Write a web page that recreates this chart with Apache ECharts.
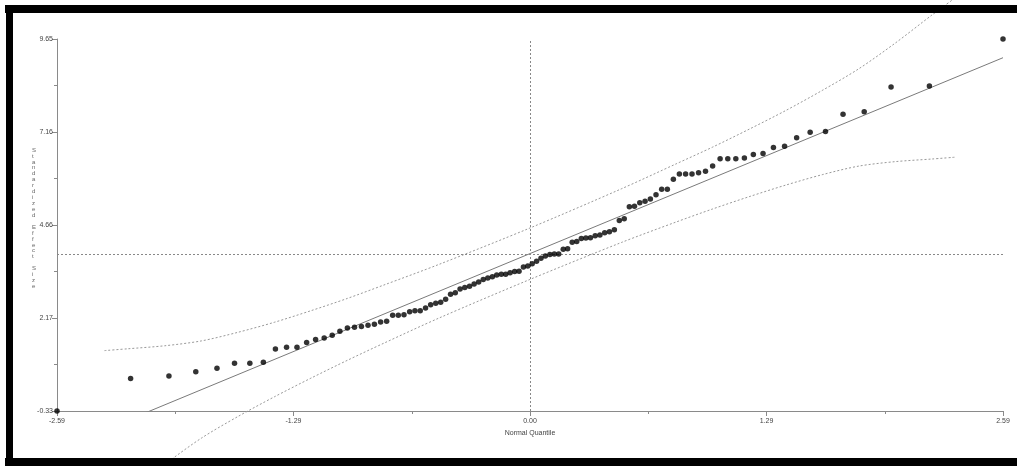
<!DOCTYPE html>
<html>
<head>
<meta charset="utf-8">
<script src="https://cdn.jsdelivr.net/npm/echarts@6/dist/echarts.min.js"></script>
<style>
html,body{margin:0;padding:0;background:#fff;}
#c{width:1017px;height:466px;}
</style>
</head>
<body>
<div id="c"></div>
<script>
// Normal quantiles (x) and sorted standardized effect sizes (y)
var quantiles = [-2.59,-2.187,-1.977,-1.830,-1.714,-1.618,-1.534,-1.460,-1.394,-1.333,-1.276,-1.223,-1.174,-1.127,-1.083,-1.041,-1.000,-0.961,-0.923,-0.887,-0.852,-0.818,-0.785,-0.752,-0.721,-0.690,-0.659,-0.630,-0.601,-0.572,-0.544,-0.516,-0.489,-0.462,-0.435,-0.409,-0.383,-0.357,-0.331,-0.306,-0.281,-0.256,-0.231,-0.206,-0.182,-0.157,-0.133,-0.109,-0.084,-0.060,-0.036,-0.012,
0.012,0.036,0.060,0.084,0.109,0.133,0.157,0.182,0.206,0.231,0.256,0.281,0.306,0.331,0.357,0.383,0.409,0.435,0.462,0.489,0.516,0.544,0.572,0.601,0.630,0.659,0.690,0.721,0.752,0.785,0.818,0.852,0.887,0.923,0.961,1.000,1.041,1.083,1.127,1.174,1.223,1.276,1.333,1.394,1.460,1.534,1.618,1.714,1.830,1.977,2.187,2.59];
var effects = [-0.33,0.54,0.61,0.72,0.82,0.95,0.95,0.98,1.33,1.38,
1.38,1.51,1.59,1.63,1.70,1.81,1.90,1.92,1.94,1.97,
2.00,2.06,2.08,2.24,2.24,2.25,2.33,2.36,2.36,2.43,
2.52,2.56,2.59,2.67,2.80,2.84,2.94,2.98,3.02,3.08,
3.13,3.20,3.24,3.27,3.32,3.34,3.34,3.38,3.41,3.42,
3.53,3.56,3.62,3.69,3.77,3.83,3.87,3.88,3.88,4.01,
4.02,4.20,4.22,4.30,4.31,4.32,4.37,4.39,4.45,4.48,
4.53,4.78,4.83,5.15,5.16,5.26,5.30,5.36,5.47,5.62,
5.62,5.89,6.03,6.03,6.03,6.06,6.10,6.24,6.44,6.44,
6.44,6.46,6.55,6.58,6.74,6.77,7.00,7.15,7.17,7.63,
7.70,8.36,8.39,9.65];

// Fitted line end points
var fitX = [-2.59, 2.59];
var fitY = [-1.362, 9.148];

// Confidence band
var bandX = [-2.33,-2.2,-2.0,-1.8,-1.6,-1.4,-1.2,-1.0,-0.8,-0.5,0,0.5,0.8,1.0,1.2,1.4,1.6,1.8,2.0,2.2,2.33];
var bandUpper = [1.29,1.34,1.42,1.55,1.78,2.05,2.36,2.69,3.05,3.60,4.58,5.63,6.30,6.75,7.23,7.73,8.27,8.85,9.54,10.29,10.76];
var bandLower = [-2.98,-2.50,-1.76,-1.06,-0.48,0.05,0.55,1.03,1.49,2.16,3.20,4.19,4.74,5.09,5.42,5.73,6.01,6.24,6.36,6.43,6.48];

// Reference lines
var refX = 0;
var refY = 3.88;

// Axis ticks
var xTickLabels = ['-2.59','-1.29','0.00','1.29','2.59'];
var yTickValues = [-0.33, 2.165, 4.66, 7.155, 9.65];
var yTickLabels = ['-0.33','2.17','4.66','7.16','9.65'];
var yMinorValues = [0.9175, 3.4125, 5.9075, 8.4025];

var yTitle = 'Standardized Effect Size';

function zip(a, b) { return a.map(function (v, i) { return [v, b[i]]; }); }

var chart = echarts.init(document.getElementById('c'), null, {renderer: 'canvas'});
var axisColor = '#8a8a8a';
var fontFam = 'Liberation Sans, Arial, sans-serif';
var labelFont = {fontSize: 7, color: '#444', fontFamily: fontFam};

chart.setOption({
  backgroundColor: '#fff',
  animation: false,
  grid: {left: 57, right: 14, top: 39, bottom: 55, containLabel: false},
  xAxis: {
    type: 'value', min: -2.59, max: 2.59, interval: 1.295,
    axisLine: {show: true, onZero: false, lineStyle: {color: axisColor, width: 1}},
    axisTick: {show: true, length: 5, lineStyle: {color: axisColor}},
    minorTick: {show: true, splitNumber: 2, length: 3, lineStyle: {color: axisColor}},
    splitLine: {show: false},
    axisLabel: Object.assign({margin: 7, formatter: function (v) {
      return xTickLabels[Math.round((v + 2.59) / 1.295)];
    }}, labelFont),
    name: 'Normal Quantile', nameLocation: 'middle', nameGap: 15,
    nameTextStyle: {fontSize: 7, color: '#444', fontFamily: fontFam}
  },
  yAxis: [{
    type: 'value', min: -0.33, max: 9.65, position: 'left',
    axisLine: {show: true, onZero: false, lineStyle: {color: axisColor, width: 1}},
    axisTick: {show: true, length: 5, customValues: yTickValues, lineStyle: {color: axisColor}},
    splitLine: {show: false},
    axisLabel: Object.assign({margin: 4, customValues: yTickValues, formatter: function (v) {
      var best = 0;
      for (var i = 0; i < yTickValues.length; i++) {
        if (Math.abs(yTickValues[i] - v) < Math.abs(yTickValues[best] - v)) best = i;
      }
      return yTickLabels[best];
    }}, labelFont)
  }, {
    // minor ticks on the same left edge
    type: 'value', min: -0.33, max: 9.65, position: 'left',
    axisLine: {show: false, onZero: false},
    axisTick: {show: true, length: 3, customValues: yMinorValues, lineStyle: {color: axisColor}},
    axisLabel: {show: true, customValues: yMinorValues, formatter: function () { return ''; }},
    splitLine: {show: false}
  }],
  graphic: [
    {type: 'text', left: 32, top: 147, z: 10,
      style: {text: yTitle.split('').join('\n'),
        fontSize: 6, lineHeight: 5.93, fill: '#666', align: 'center',
        fontFamily: fontFam}},
    {type: 'rect', z: 100, shape: {x: 5, y: 5, width: 1012, height: 8}, style: {fill: '#000'}},
    {type: 'rect', z: 100, shape: {x: 6, y: 5, width: 7, height: 461}, style: {fill: '#000'}},
    {type: 'rect', z: 100, shape: {x: 5, y: 458, width: 1012, height: 8}, style: {fill: '#000'}}
  ],
  series: [
    {
      type: 'line', data: zip(bandX, bandUpper), showSymbol: false, symbol: 'none', smooth: 0.3,
      clip: false, silent: true,
      lineStyle: {color: '#999', width: 1, type: [2, 2]}, z: 2
    },
    {
      type: 'line', data: zip(bandX, bandLower), showSymbol: false, symbol: 'none', smooth: 0.3,
      clip: false, silent: true,
      lineStyle: {color: '#999', width: 1, type: [2, 2]}, z: 2
    },
    {
      type: 'line', data: zip(fitX, fitY), showSymbol: false, symbol: 'none', clip: true, silent: true,
      lineStyle: {color: '#7a7a7a', width: 1}, z: 3
    },
    {
      type: 'scatter', data: zip(quantiles, effects), symbol: 'circle', symbolSize: 5.5,
      itemStyle: {color: '#000'}, clip: false, z: 5,
      markLine: {
        silent: true, symbol: 'none', animation: false, label: {show: false},
        lineStyle: {color: '#888', width: 1, type: [2, 2]},
        data: [{xAxis: refX}, {yAxis: refY}]
      }
    }
  ]
});
</script>
</body>
</html>
